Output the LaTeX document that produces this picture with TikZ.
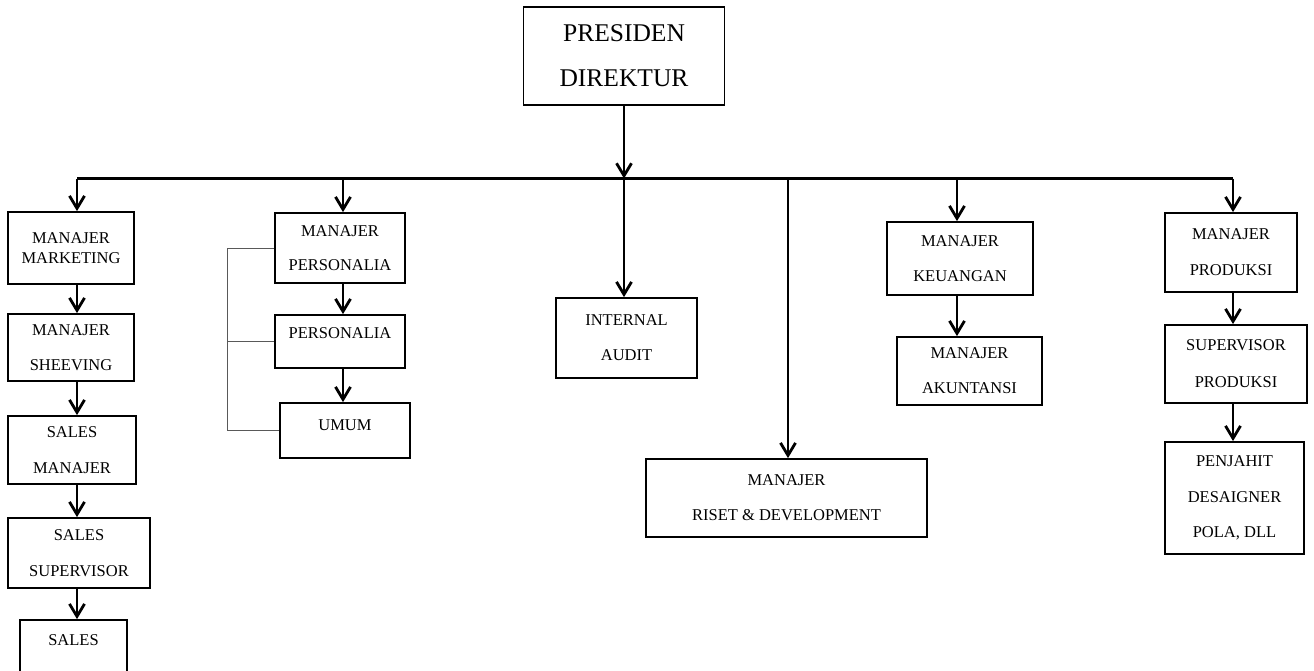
\documentclass[tikz,border=0pt]{standalone}
\usepackage{fontspec}
\setmainfont{Liberation Serif}
\usetikzlibrary{arrows.meta}
\tikzset{
  box/.style={draw, line width=1.8pt, align=center, inner sep=0pt, anchor=center},
  lbl/.style={font=\fontsize{16.5pt}{#1pt}\selectfont},
  conn/.style={line width=2.8pt, -{Straight Barb[length=12.5pt,width=15pt]}},
  busline/.style={line width=3.2pt},
  bracket/.style={line width=1pt, black!65}
}
\begin{document}
\begin{tikzpicture}[x=1pt,y=-1pt]
\useasboundingbox (0,0) rectangle (1314,670);
\clip (0,0) rectangle (1314,670);
% nodes
\node[box, font=\fontsize{25.5pt}{45pt}\selectfont, minimum width=201pt, minimum height=98pt] (pd) at (624,56) {PRESIDEN\\DIREKTUR};
\node[box, lbl=20, minimum width=126pt, minimum height=72pt] (mm) at (71,248) {MANAJER\\MARKETING};
\node[box, lbl=35, minimum width=126pt, minimum height=67pt] (ms) at (71,347.5) {MANAJER\\SHEEVING};
\node[box, lbl=36, minimum width=128pt, minimum height=68pt] (sm) at (72,450) {SALES\\MANAJER};
\node[box, lbl=36, minimum width=142pt, minimum height=70pt] (ss) at (79,553) {SALES\\SUPERVISOR};
\node[box, lbl=20, text depth=40pt, minimum width=107pt, minimum height=80pt] (sl) at (73.5,660) {SALES};
\node[box, lbl=34, minimum width=130pt, minimum height=70pt] (mp) at (340,248) {MANAJER\\PERSONALIA};
\node[box, lbl=20, text depth=17pt, minimum width=130pt, minimum height=53pt] (pe) at (340,341.5) {PERSONALIA};
\node[box, lbl=20, text depth=11pt, minimum width=130pt, minimum height=55pt] (um) at (345,430.5) {UMUM};
\node[box, lbl=35, minimum width=141pt, minimum height=80pt] (ia) at (626.5,338) {INTERNAL\\AUDIT};
\node[box, lbl=35, minimum width=281pt, minimum height=78pt] (rd) at (786.5,498) {MANAJER\\RISET \& DEVELOPMENT};
\node[box, lbl=35, minimum width=146pt, minimum height=73pt] (mk) at (960,258.5) {MANAJER\\KEUANGAN};
\node[box, lbl=35, minimum width=145pt, minimum height=68pt] (ak) at (969.5,371) {MANAJER\\AKUNTANSI};
\node[box, lbl=36, minimum width=132pt, minimum height=79pt] (mpr) at (1231,252.5) {MANAJER\\PRODUKSI};
\node[box, lbl=37, minimum width=142pt, minimum height=78pt] (sp) at (1236,364) {SUPERVISOR\\PRODUKSI};
\node[box, lbl=35.5, minimum width=139pt, minimum height=112pt] (pj) at (1234.5,498) {PENJAHIT\\DESAIGNER\\POLA, DLL};
% bus coordinates
\coordinate (bL) at (77,178.5);
\coordinate (bP) at (343,178.5);
\coordinate (b0) at (624,178.5);
\coordinate (bD) at (788,178.5);
\coordinate (bK) at (957,178.5);
\coordinate (bR) at (1233,178.5);
\coordinate (brk) at (227,0);
% bus line
\draw[busline] (bL) -- (bR);
% president
\draw[conn] (pd.south -| b0) -- (b0);
\draw[conn] (b0) -- (b0 |- ia.north);
% marketing column
\draw[conn] (bL) -- (bL |- mm.north);
\draw[conn] (mm.south -| bL) -- (ms.north -| bL);
\draw[conn] (ms.south -| bL) -- (sm.north -| bL);
\draw[conn] (sm.south -| bL) -- (ss.north -| bL);
\draw[conn] (ss.south -| bL) -- (sl.north -| bL);
% personalia column
\draw[conn] (bP) -- (bP |- mp.north);
\draw[conn] (mp.south -| bP) -- (pe.north -| bP);
\draw[conn] (pe.south -| bP) -- (um.north -| bP);
\draw[bracket] (mp.west) -- (mp.west -| brk) -- (um.west -| brk) -- (um.west);
\draw[bracket] (pe.west) -- (pe.west -| brk);
% riset
\draw[conn] (bD) -- (bD |- rd.north);
% keuangan
\draw[conn] (bK) -- (bK |- mk.north);
\draw[conn] (mk.south -| bK) -- (ak.north -| bK);
% produksi
\draw[conn] (bR) -- (bR |- mpr.north);
\draw[conn] (mpr.south -| bR) -- (sp.north -| bR);
\draw[conn] (sp.south -| bR) -- (pj.north -| bR);
\end{tikzpicture}
\end{document}
